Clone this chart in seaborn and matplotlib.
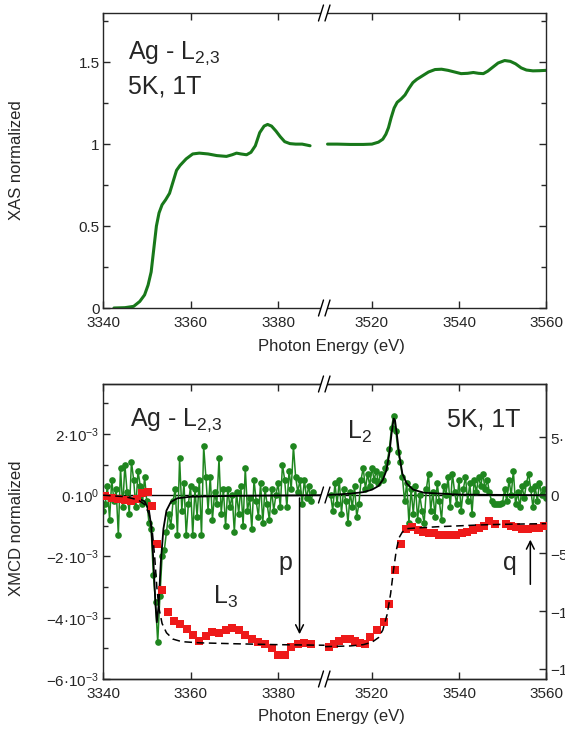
import numpy as np
import matplotlib
matplotlib.use("Agg")
import matplotlib.pyplot as plt
import seaborn as sns
from matplotlib.lines import Line2D
from matplotlib.patches import Polygon
from matplotlib.ticker import FixedLocator, MultipleLocator

# ---------------- data ----------------
# XAS (top panel), two energy windows
xas_e_lo = [3342.5, 3345, 3347, 3348.4, 3349.5, 3350.3, 3351, 3351.6, 3352.2, 3352.8,
            3353.5, 3354.3, 3355.2, 3356, 3356.8, 3357.6, 3359, 3360.5, 3362, 3364,
            3366, 3368.2, 3369.5, 3370.5, 3371.5, 3372.8, 3373.8, 3374.8, 3375.8, 3376.8,
            3377.6, 3378.5, 3379.5, 3380.5, 3381.5, 3382.7, 3384, 3385.5, 3387.3]
xas_y_lo = [0.0, 0.002, 0.01, 0.04, 0.08, 0.14, 0.22, 0.36, 0.5, 0.58,
            0.63, 0.66, 0.7, 0.77, 0.84, 0.87, 0.91, 0.94, 0.945, 0.94,
            0.93, 0.925, 0.935, 0.945, 0.94, 0.935, 0.95, 0.99, 1.07, 1.11,
            1.12, 1.11, 1.08, 1.045, 1.015, 1.003, 1.0, 1.0, 0.99]
xas_e_hi = [3509.8, 3512, 3515, 3518, 3520, 3521.5, 3522.5, 3523.2, 3523.8, 3524.4,
            3525.1, 3525.8, 3526.7, 3527.6, 3528.5, 3529.4, 3530.3, 3531.5, 3533, 3534.5,
            3536, 3537.5, 3539, 3540.5, 3542, 3543.3, 3544.5, 3545.6, 3546.6, 3547.8,
            3549, 3550.5, 3551.8, 3553, 3554.3, 3555.5, 3557, 3558.5, 3560]
xas_y_hi = [1.0, 1.0, 0.998, 0.998, 1.0, 1.012, 1.03, 1.06, 1.1, 1.16,
            1.22, 1.255, 1.275, 1.3, 1.34, 1.375, 1.395, 1.415, 1.44, 1.455,
            1.457, 1.45, 1.44, 1.43, 1.432, 1.437, 1.432, 1.43, 1.445, 1.47,
            1.495, 1.51, 1.505, 1.49, 1.465, 1.452, 1.447, 1.448, 1.45]

# XMCD data (units of 1e-3), 0.5 eV scan step
xmcd_start_lo, xmcd_start_hi, xmcd_step = 3340.0, 3510.5, 0.5
xmcd_lo = [-0.5, -0.3, 0.3, -0.8, 0.5, -0.2, 0.2, -1.3, 0.9, -0.4,
           1.0, 0.1, -0.6, 1.1, 0.5, -0.4, 0.8, 0.3, -0.3, 0.6,
           -0.2, -0.9, -1.1, -2.6, -3.5, -4.8, -3.3, -2.0, -1.8, -1.2,
           -0.6, -1.0, -0.2, 0.2, -1.3, 1.2, -0.5, 0.4, -1.3, -0.3,
           0.3, -1.3, 0.2, -0.7, 0.5, -1.3, 1.6, 0.6, -0.5, 0.6,
           -0.8, 0.1, -0.3, 1.2, -0.6, 0.2, -1.0, 0.2, -0.4, 0.0,
           -1.2, 0.1, -0.6, 0.3, -1.0, 0.9, -0.5, -0.1, -1.1, 0.5,
           -0.2, -0.7, 0.4, -0.9, 0.2, -0.3, -0.8, 0.2, -0.5, 0.0,
           0.4, -0.4, 1.0, 0.5, -0.4, 0.8, 0.2, 1.6, 0.6, 0.1,
           0.5, -0.3, 0.5, -0.1, 0.3, -0.2, 0.1]
xmcd_hi = [0.0, -0.5, 0.4, -0.3, 0.5, -0.6, 0.2, -0.2, -0.9, 0.1,
           -0.4, 0.3, -0.7, -0.3, 0.5, 0.9, 0.2, 0.7, 0.3, 0.9,
           0.5, 0.8, 0.4, 0.7, 0.5, 0.9, 1.1, 1.5, 2.2, 2.6,
           2.1, 1.4, 1.1, 0.6, -0.2, 0.4, -0.9, 0.2, -0.6, 0.3,
           -0.8, 0.0, -0.5, -0.9, 0.2, 0.7, -0.5, 0.1, -0.7, 0.4,
           -0.2, -0.8, 0.3, 0.0, 0.6, -0.4, 0.7, 0.1, -0.3, 0.5,
           -0.5, 0.2, 0.6, -0.2, 0.4, -0.6, 0.5, 0.1, 0.6, 0.3,
           0.7, 0.2, 0.5, 0.1, -0.2, -0.3, -0.3, -0.3, -0.3, -0.25,
           0.2, -0.2, 0.5, 0.0, 0.8, -0.3, 0.1, -0.4, 0.3, -0.1,
           0.4, 0.7, 0.2, -0.4, 0.3, -0.2, 0.4, 0.0, 0.2, -0.1]

# Lorentzian fit curves (units of 1e-3)
fit_e_lo = [3340, 3345, 3348, 3349.5, 3350.5, 3351, 3351.5, 3352, 3352.3, 3352.7,
            3353.2, 3353.8, 3354.5, 3355.5, 3357, 3360, 3370, 3390.6]
fit_y_lo = [-0.02, -0.05, -0.1, -0.2, -0.5, -1.0, -2.1, -3.6, -4.15, -3.6,
            -2.2, -1.1, -0.5, -0.22, -0.1, -0.05, -0.02, 0.0]
fit_e_hi = [3509.1, 3515, 3518, 3520, 3521.5, 3522.5, 3523.3, 3524, 3524.5, 3525,
            3525.3, 3525.8, 3526.3, 3527, 3528, 3529.5, 3532, 3540, 3560]
fit_y_hi = [0.0, 0.05, 0.1, 0.18, 0.3, 0.5, 0.8, 1.35, 2.0, 2.5,
            2.45, 1.9, 1.3, 0.7, 0.38, 0.18, 0.08, 0.02, 0.0]

# Integrated XMCD (right axis, units of 1e-3)
int_e_lo = [3340.5, 3342, 3343.5, 3345, 3346.5, 3347.8, 3349, 3350.2, 3351.2, 3352.3,
            3353.4, 3354.9, 3356.3, 3357.7, 3359.1, 3360.5, 3362, 3363.5, 3365, 3366.5,
            3368, 3369.5, 3371, 3372.5, 3374, 3375.5, 3377, 3378.5, 3380, 3381.5,
            3383, 3384.5, 3386, 3387.5]
int_y_lo = [-0.1, -0.2, -0.3, -0.4, -0.5, -0.3, 0.2, 0.25, -0.9, -4.2,
            -8.2, -10.1, -10.9, -11.1, -11.6, -12.1, -12.6, -12.2, -11.8, -11.9,
            -11.7, -11.5, -11.7, -12.1, -12.4, -12.7, -12.9, -13.2, -13.8, -13.8,
            -13.1, -12.9, -12.8, -12.9]
int_e_hi = [3510.2, 3511.3, 3512.5, 3513.7, 3514.9, 3516.1, 3517.3, 3518.5, 3519.6, 3521.2,
            3522.7, 3523.9, 3525.3, 3526.7, 3527.9, 3529.2, 3530.5, 3531.8, 3533.0, 3534.2,
            3535.5, 3536.8, 3538.0, 3539.3, 3540.6, 3541.9, 3543.2, 3544.5, 3545.7, 3546.9,
            3548.2, 3550.8, 3552.0, 3553.2, 3554.5, 3555.8, 3557.0, 3558.3, 3559.6]
int_y_hi = [-13.1, -12.85, -12.6, -12.45, -12.45, -12.6, -12.8, -12.85, -12.3, -11.7,
            -11.0, -9.4, -6.5, -4.2, -2.9, -2.75, -3.05, -3.2, -3.25, -3.3,
            -3.45, -3.45, -3.45, -3.4, -3.3, -3.2, -3.05, -2.8, -2.65, -2.2,
            -2.5, -2.5, -2.65, -2.75, -2.9, -2.95, -2.8, -2.8, -2.65]

# Integrated fit (dashed, right axis)
step_e_lo = [3340, 3345, 3348, 3349.5, 3350.5, 3351.2, 3351.8, 3352.3, 3352.8, 3353.5,
             3354.5, 3356, 3358, 3362, 3370, 3380, 3390.6]
step_y_lo = [0.0, -0.13, -0.4, -0.8, -1.6, -2.9, -5.3, -7.95, -9.8, -11.1,
             -11.9, -12.45, -12.67, -12.77, -12.85, -12.93, -12.98]
step_e_hi = [3509.1, 3515, 3518, 3520, 3521.5, 3522.5, 3523.5, 3524.3, 3525, 3525.6,
             3526.2, 3527, 3528, 3530, 3535, 3540, 3545, 3550, 3555, 3560]
step_y_hi = [-13.1, -13.04, -12.93, -12.72, -12.32, -11.66, -10.3, -8.5, -6.36, -4.77,
             -3.7, -3.18, -2.9, -2.84, -2.73, -2.65, -2.57, -2.52, -2.49, -2.46]

# axis ticks / labels
xt_lo = [3340, 3360, 3380]
xt_hi = [3520, 3540, 3560]
xas_ticks = [0, 0.5, 1, 1.5]
xas_ticklabels = ["0", "0.5", "1", "1.5"]
xmcd_ticks = [-6, -4, -2, 0, 2]
xmcd_ticklabels = ["\u22126\u00b710$^{-3}$", "\u22124\u00b710$^{-3}$", "\u22122\u00b710$^{-3}$",
                   "0\u00b710$^{0}$", "2\u00b710$^{-3}$"]
int_ticks = [-15, -10, -5, 0, 5]
int_ticklabels = ["\u22121.5\u00b710$^{-2}$", "\u22121\u00b710$^{-2}$", "\u22125\u00b710$^{-3}$",
                  "0", "5\u00b710$^{-3}$"]

# ---------------- style ----------------
sns.set_style("ticks")
plt.rcParams['font.family'] = ['Liberation Sans', 'DejaVu Sans']
plt.rcParams['mathtext.fontset'] = 'custom'
plt.rcParams['mathtext.rm'] = 'Liberation Sans'
plt.rcParams['mathtext.it'] = 'Liberation Sans:italic'
plt.rcParams['mathtext.default'] = 'regular'
plt.rcParams['axes.linewidth'] = 1.0

GREEN = '#18781a'
GREEN2 = '#1f861f'
RED = '#ee1a1a'
W, H = 565, 737
XBRK = 324.5
XLIM_LO = (3340, 3390.6)
XLIM_HI = (3509.1, 3560)
TICKFS = 11
TITLE = "Ag - L$_{2{,}3}$"

fig = plt.figure(figsize=(W / 100, H / 100), dpi=100)


def rect(l, t, r, b):
    return [l / W, 1 - b / H, (r - l) / W, (b - t) / H]


def style_pair(aL, aR):
    aL.set_xlim(*XLIM_LO)
    aR.set_xlim(*XLIM_HI)
    aL.xaxis.set_major_locator(FixedLocator(xt_lo))
    aR.xaxis.set_major_locator(FixedLocator(xt_hi))
    aL.spines['right'].set_visible(False)
    aR.spines['left'].set_visible(False)
    for a in (aL, aR):
        a.tick_params(axis='x', which='both', direction='in', top=True, bottom=True,
                      length=5, width=1, labelsize=TICKFS, pad=6)
        a.set_xlabel('')
        a.set_ylabel('')
        a.grid(False)
    aL.tick_params(axis='y', which='both', direction='in', left=True, right=False,
                   labelsize=TICKFS, pad=2.5, width=1)
    aR.tick_params(axis='y', which='both', direction='in', left=False, right=True,
                   labelleft=False, labelright=False, width=1)
    for a in (aL, aR):
        a.tick_params(axis='y', which='major', length=5)
        a.tick_params(axis='y', which='minor', length=3.5)


# ---------------- top panel: XAS ----------------
tL = fig.add_axes(rect(103, 13, XBRK, 308))
tR = fig.add_axes(rect(XBRK, 13, 546, 308))
sns.lineplot(x=xas_e_lo, y=xas_y_lo, ax=tL, color=GREEN, lw=2.2, estimator=None, sort=False)
sns.lineplot(x=xas_e_hi, y=xas_y_hi, ax=tR, color=GREEN, lw=2.2, estimator=None, sort=False)
for a in (tL, tR):
    a.set_ylim(0, 1.8)
    a.yaxis.set_major_locator(FixedLocator(xas_ticks))
    a.yaxis.set_minor_locator(MultipleLocator(0.25))
tL.set_yticklabels(xas_ticklabels)
style_pair(tL, tR)

tL.text(0.113, 0.865, TITLE, transform=tL.transAxes, fontsize=18, va='center')
tL.text(0.113, 0.75, "5K, 1T", transform=tL.transAxes, fontsize=18, va='center')

# ---------------- bottom panel: XMCD ----------------
bL = fig.add_axes(rect(103, 384, XBRK, 679))
bR = fig.add_axes(rect(XBRK, 384, 546, 679))
YL = (-6, 3.63)
YR = (-6 * 2.65, 3.63 * 2.65)

for a in (bL, bR):
    a.axhline(0, color='k', lw=1.0, zorder=1)

e_lo = xmcd_start_lo + xmcd_step * np.arange(len(xmcd_lo))
e_hi = xmcd_start_hi + xmcd_step * np.arange(len(xmcd_hi))
sns.lineplot(x=e_lo, y=xmcd_lo, ax=bL, color=GREEN2, lw=1.1, marker='o', markersize=4.8,
             markeredgewidth=0, estimator=None, sort=False, zorder=2)
sns.lineplot(x=e_hi, y=xmcd_hi, ax=bR, color=GREEN2, lw=1.1, marker='o', markersize=4.8,
             markeredgewidth=0, estimator=None, sort=False, zorder=2)
sns.lineplot(x=fit_e_lo, y=fit_y_lo, ax=bL, color='k', lw=1.3, estimator=None, sort=False, zorder=3)
sns.lineplot(x=fit_e_hi, y=fit_y_hi, ax=bR, color='k', lw=1.3, estimator=None, sort=False, zorder=3)

for a in (bL, bR):
    a.set_ylim(*YL)
    a.yaxis.set_major_locator(FixedLocator(xmcd_ticks))
    a.yaxis.set_minor_locator(MultipleLocator(1))
bL.set_yticklabels(xmcd_ticklabels)
style_pair(bL, bR)

# twin axes for the integrated signal
rL = bL.twinx()
rR = bR.twinx()
for r, e, y, se, sy in ((rL, int_e_lo, int_y_lo, step_e_lo, step_y_lo),
                        (rR, int_e_hi, int_y_hi, step_e_hi, step_y_hi)):
    sns.scatterplot(x=e, y=y, ax=r, color=RED, marker='s', s=36, linewidth=0, zorder=3)
    sns.lineplot(x=se, y=sy, ax=r, color='k', lw=1.1, ls=(0, (5, 3)), estimator=None,
                 sort=False, zorder=4)
    r.set_ylim(*YR)
    r.set_ylabel('')
rL.set_xlim(*XLIM_LO)
rR.set_xlim(*XLIM_HI)
rL.set_yticks([])
rL.spines['right'].set_visible(False)
rL.spines['left'].set_visible(False)
rR.spines['left'].set_visible(False)
rR.yaxis.set_major_locator(FixedLocator(int_ticks))
rR.set_yticklabels(int_ticklabels)
rR.tick_params(axis='y', direction='in', right=True, left=False, length=5, width=1,
               labelsize=TICKFS, pad=3)
# restore tick sides for original axes after twinning
bL.tick_params(axis='y', which='both', left=True, right=False)
bR.tick_params(axis='y', which='both', left=False, right=False, labelleft=False)

# annotations
bL.text(0.122, 0.878, TITLE, transform=bL.transAxes, fontsize=18, va='center')
bR.text(0.553, 0.878, "5K, 1T", transform=bR.transAxes, fontsize=18, va='center')
bL.text(0.497, 0.278, "L$_3$", transform=bL.transAxes, fontsize=18, va='center')
bR.text(0.10, 0.837, "L$_2$", transform=bR.transAxes, fontsize=18, va='center')
bL.text(0.79, 0.393, "p", transform=bL.transAxes, fontsize=18, va='center')
bR.text(0.806, 0.393, "q", transform=bR.transAxes, fontsize=18, va='center')
rL.annotate('', xy=(3384.9, -4.63 * 2.65), xytext=(3384.9, 0),
            arrowprops=dict(arrowstyle='->', lw=1.1, color='k', mutation_scale=14))
rR.annotate('', xy=(3556.4, -1.36 * 2.65), xytext=(3556.4, -3.0 * 2.65),
            arrowprops=dict(arrowstyle='->', lw=1.1, color='k', mutation_scale=14))

# axis labels
fig.text(17 / W, 1 - 160 / H, "XAS normalized", rotation=90, ha='center', va='center', fontsize=12)
fig.text(17 / W, 1 - 528 / H, "XMCD normalized", rotation=90, ha='center', va='center', fontsize=12)
fig.text(331 / W, 1 - 347 / H, "Photon Energy (eV)", ha='center', va='center', fontsize=12)
fig.text(331 / W, 1 - 717 / H, "Photon Energy (eV)", ha='center', va='center', fontsize=12)


# break marks
def brk(yc):
    def P(x, y):
        return (x / W, 1 - y / H)
    x1, x2 = XBRK - 3.5, XBRK + 3.0
    poly = Polygon([P(x1 - 2.5, yc + 8), P(x1 + 2.5, yc - 8), P(x2 + 2.5, yc - 8), P(x2 - 2.5, yc + 8)],
                   closed=True, transform=fig.transFigure, facecolor='white', edgecolor='none',
                   zorder=20)
    fig.add_artist(poly)
    for xc in (x1, x2):
        ln = Line2D([(xc - 2.5) / W, (xc + 2.5) / W], [1 - (yc + 8) / H, 1 - (yc - 8) / H],
                    transform=fig.transFigure, color='k', lw=1.0, zorder=21)
        fig.add_artist(ln)


for yc in (13, 308, 384, 679, 495):
    brk(yc)

fig.savefig("out.png", dpi=100)
